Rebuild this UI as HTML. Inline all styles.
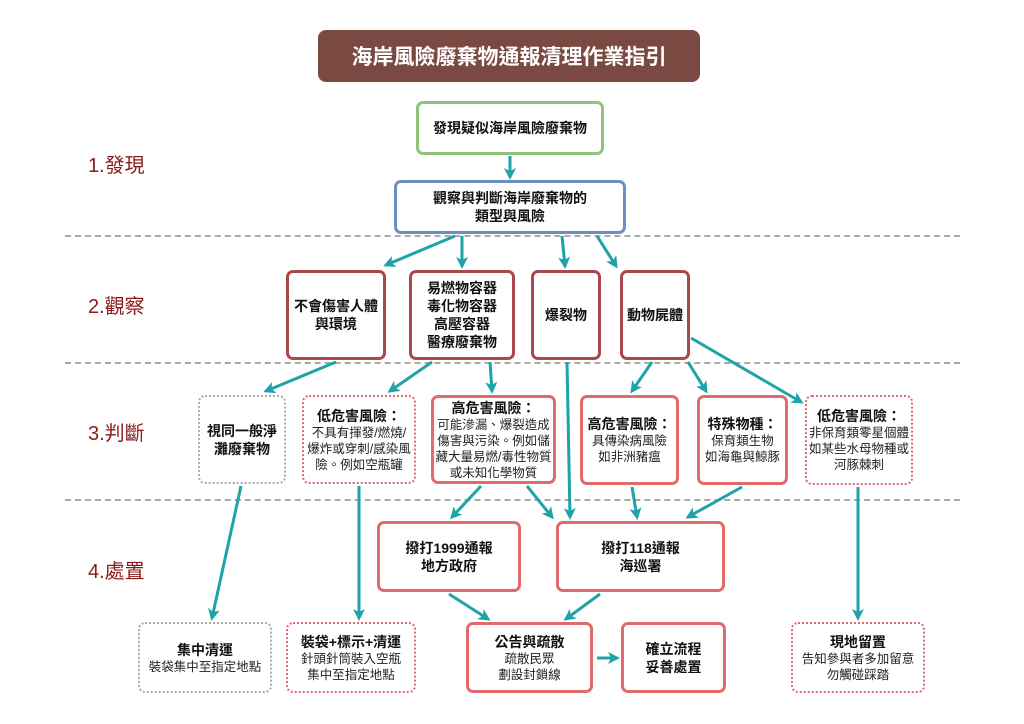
<!DOCTYPE html>
<html><head><meta charset="utf-8"><style>
body{margin:0;width:1024px;height:724px;background:#fff;position:relative;overflow:hidden;font-family:"Liberation Sans","Noto Sans CJK TC",sans-serif;}
.b{position:absolute;box-sizing:border-box;display:flex;flex-direction:column;align-items:center;justify-content:center;text-align:center;background:#fff;border-radius:7px;color:#222;font-size:12.5px;line-height:16px;}
.b b{font-size:14px;line-height:18px;color:#111}
.dr{border:3px solid #a9474c}
.sr{border:3px solid #e06b6f}
.dot{border:2px dotted #e06b6f}
.dg{border:2px dotted #aaa}
.lab{position:absolute;color:#8b1a1a;font-size:20px;}
.hl{position:absolute;left:65px;width:895px;border-top:2px dashed #aaa;}
</style></head><body>
<div class="hl" style="top:235px"></div>
<div class="hl" style="top:362px"></div>
<div class="hl" style="top:499px"></div>
<div style="position:absolute;left:318px;top:30px;width:382px;height:52px;background:#7a4a42;border-radius:8px;color:#fff;font-size:21px;font-weight:bold;display:flex;align-items:center;justify-content:center;">海岸風險廢棄物通報清理作業指引</div>
<div class="lab" style="left:88px;top:149px">1.發現</div>
<div class="lab" style="left:88px;top:290px">2.觀察</div>
<div class="lab" style="left:88px;top:417px">3.判斷</div>
<div class="lab" style="left:88px;top:555px">4.處置</div>

<div class="b" style="left:416px;top:101px;width:188px;height:54px;border:3px solid #8fc27a"><b>發現疑似海岸風險廢棄物</b></div>
<div class="b" style="left:394px;top:180px;width:232px;height:54px;border:3px solid #6b8fbf"><b>觀察與判斷海岸廢棄物的<br>類型與風險</b></div>

<div class="b dr" style="left:286px;top:270px;width:100px;height:90px"><b>不會傷害人體<br>與環境</b></div>
<div class="b dr" style="left:409px;top:270px;width:106px;height:90px"><b>易燃物容器<br>毒化物容器<br>高壓容器<br>醫療廢棄物</b></div>
<div class="b dr" style="left:531px;top:270px;width:70px;height:90px"><b>爆裂物</b></div>
<div class="b dr" style="left:620px;top:270px;width:70px;height:90px"><b>動物屍體</b></div>

<div class="b dg" style="left:198px;top:395px;width:88px;height:89px"><b>視同一般淨<br>灘廢棄物</b></div>
<div class="b dot" style="left:302px;top:395px;width:114px;height:89px"><b>低危害風險：</b>不具有揮發/燃燒/<br>爆炸或穿刺/感染風<br>險。例如空瓶罐</div>
<div class="b sr" style="left:431px;top:395px;width:125px;height:89px"><b>高危害風險：</b>可能滲漏、爆裂造成<br>傷害與污染。例如儲<br>藏大量易燃/毒性物質<br>或未知化學物質</div>
<div class="b sr" style="left:580px;top:395px;width:99px;height:90px"><b>高危害風險：</b>具傳染病風險<br>如非洲豬瘟</div>
<div class="b sr" style="left:697px;top:395px;width:91px;height:90px"><b>特殊物種：</b>保育類生物<br>如海龜與鯨豚</div>
<div class="b dot" style="left:805px;top:395px;width:108px;height:90px"><b>低危害風險：</b>非保育類零星個體<br>如某些水母物種或<br>河豚棘刺</div>

<div class="b sr" style="left:377px;top:521px;width:144px;height:71px"><b>撥打1999通報<br>地方政府</b></div>
<div class="b sr" style="left:556px;top:521px;width:169px;height:71px"><b>撥打118通報<br>海巡署</b></div>

<div class="b dg" style="left:138px;top:622px;width:134px;height:71px"><b>集中清運</b>裝袋集中至指定地點</div>
<div class="b dot" style="left:286px;top:622px;width:130px;height:71px"><b>裝袋+標示+清運</b>針頭針筒裝入空瓶<br>集中至指定地點</div>
<div class="b sr" style="left:466px;top:622px;width:127px;height:71px"><b>公告與疏散</b>疏散民眾<br>劃設封鎖線</div>
<div class="b sr" style="left:621px;top:622px;width:105px;height:71px"><b>確立流程<br>妥善處置</b></div>
<div class="b dot" style="left:791px;top:622px;width:134px;height:71px"><b>現地留置</b>告知參與者多加留意<br>勿觸碰踩踏</div>

<svg style="position:absolute;left:0;top:0" width="1024" height="724">
<defs><marker id="a" markerWidth="12" markerHeight="12" refX="9" refY="6" orient="auto" markerUnits="userSpaceOnUse" viewBox="0 0 12 12"><path d="M0,0 L12,6 L0,12 L3,6z" fill="#1fa3a8"/></marker></defs>
<g stroke="#1fa3a8" stroke-width="3" fill="none" marker-end="url(#a)">
<line x1="510" y1="156" x2="510" y2="177"/>
<line x1="455" y1="236" x2="386" y2="265"/>
<line x1="462" y1="236" x2="462" y2="266"/>
<line x1="562" y1="236" x2="565" y2="266"/>
<line x1="597" y1="236" x2="616" y2="266"/>
<line x1="336" y1="362" x2="266" y2="391"/>
<line x1="432" y1="362" x2="390" y2="391"/>
<line x1="490" y1="362" x2="492" y2="391"/>
<line x1="567" y1="362" x2="570" y2="517"/>
<line x1="652" y1="362" x2="632" y2="391"/>
<line x1="688" y1="362" x2="706" y2="391"/>
<line x1="691" y1="338" x2="801" y2="402"/>
<line x1="241" y1="486" x2="212" y2="618"/>
<line x1="359" y1="486" x2="359" y2="618"/>
<line x1="481" y1="486" x2="452" y2="517"/>
<line x1="527" y1="486" x2="552" y2="517"/>
<line x1="632" y1="487" x2="637" y2="517"/>
<line x1="742" y1="487" x2="688" y2="517"/>
<line x1="858" y1="487" x2="858" y2="618"/>
<line x1="449" y1="594" x2="488" y2="619"/>
<line x1="600" y1="594" x2="566" y2="619"/>
<line x1="597" y1="658" x2="617" y2="658"/>
</g></svg>
</body></html>
